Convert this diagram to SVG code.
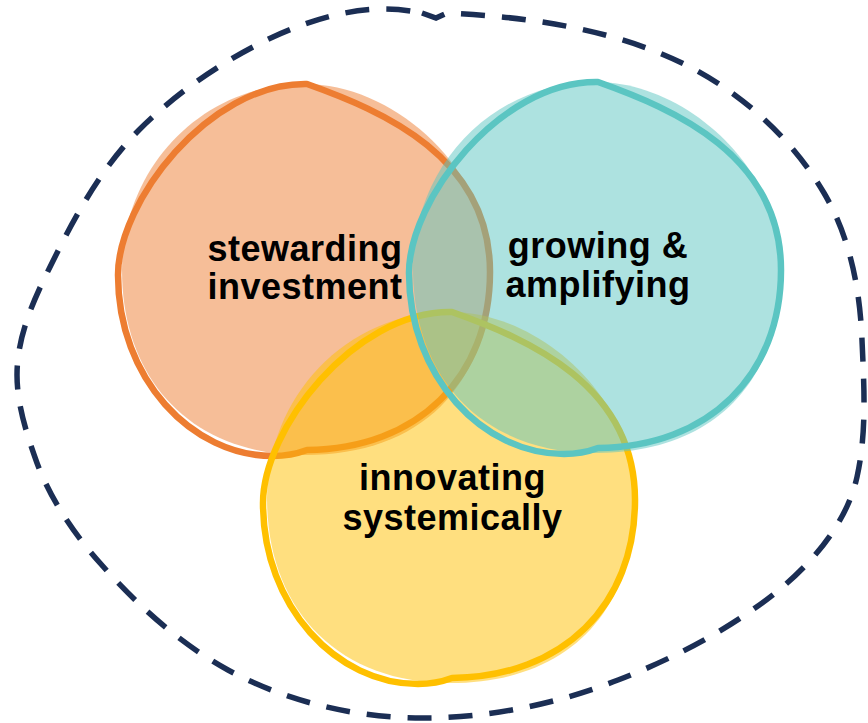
<svg xmlns="http://www.w3.org/2000/svg" width="868" height="723" viewBox="0 0 868 723">
<style>
  .outline { fill: none; stroke-width: 6.5; stroke-linejoin: round; }
  .fill { fill-opacity: 0.5; stroke: none; }
  .label { font-family: "Liberation Sans", Arial, sans-serif; font-weight: bold; font-size: 36px; letter-spacing: 0.5px; text-anchor: middle; fill: #000000; }
  .boundary { fill: none; stroke: #1B2E54; stroke-width: 5.5; stroke-dasharray: 24 17; }
</style>
<defs>
  <path id="blob-outline" d="M 2,-186 C 78,-159 185,-113 185,2 C 185,107 113,179 2,180 C -6,183 -15,186 -32,186 C -113,186 -187,109 -187,5 C -187,-68 -97,-186 0,-186 Z"/>
  <path id="blob-fill" d="M 0,-186 C 90,-186 185,-100 185,0 C 185,117 115,185 0,185 C -113,185 -183,111 -183,0 C -183,-100 -105,-186 0,-186 Z"/>
</defs>
<rect x="0" y="0" width="868" height="723" fill="#FFFFFF"/>
<g id="boundary">
  <path class="boundary" d="M 422,13 L 436,18 L 447,13 C 530,17 616,29 690,67 C 744,95 793,140 824,193 C 850,237 860,289 862,340 C 864,386 867,432 857,477 C 847,522 814,561 779,590 C 732,628 675,658 618,680 C 557,704 489,718 423,718 C 356,718 287,702 228,670 C 179,643 137,605 100,563 C 74,534 51,500 37,463 C 27,435 17,405 17,375 C 17,337 33,301 50,267 C 74,218 101,168 139,130 C 177,92 224,60 273,37 C 308,21 346,9 384,9 C 400,9 412,11 422,13 Z"/>
</g>
<g id="connectors"></g>
<g id="stewarding-investment" transform="translate(305,270)">
  <use href="#blob-fill" class="fill" fill="#ED7D31"/>
  <use href="#blob-outline" class="outline" stroke="#ED7D31"/>
  <text class="label" x="0" y="-9.5">stewarding</text>
  <text class="label" x="0" y="29">investment</text>
</g>
<g id="innovating-systemically" transform="translate(450,498)">
  <use href="#blob-fill" class="fill" fill="#FFC000"/>
  <use href="#blob-outline" class="outline" stroke="#FFC000"/>
  <text class="label" x="2.5" y="-8">innovating</text>
  <text class="label" x="2.5" y="32">systemically</text>
</g>
<g id="growing-amplifying" transform="translate(596,268)">
  <use href="#blob-fill" class="fill" fill="#5BC5C2"/>
  <use href="#blob-outline" class="outline" stroke="#5BC5C2"/>
  <text class="label" x="2" y="-10">growing &amp;</text>
  <text class="label" x="2" y="29">amplifying</text>
</g>
</svg>
